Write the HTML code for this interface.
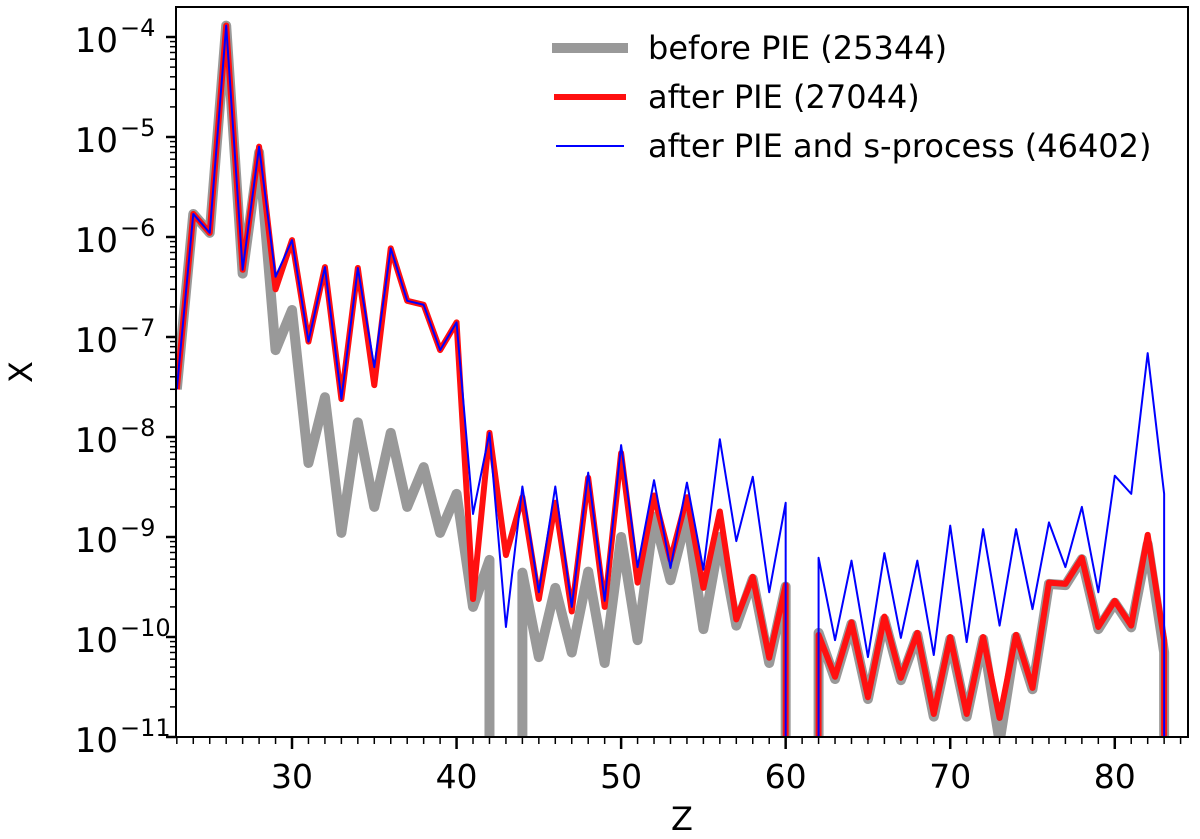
<!DOCTYPE html>
<html><head><meta charset="utf-8"><style>
html,body{margin:0;padding:0;background:#fff;overflow:hidden;width:1200px;height:839px;}
svg{display:block;}
svg text{font-family:"DejaVu Sans","Liberation Sans",sans-serif;fill:#000;}
</style></head><body>
<svg id="chart" width="1200" height="839" xmlns="http://www.w3.org/2000/svg">
<defs><clipPath id="clip"><rect x="176" y="7" width="1012" height="730"/></clipPath></defs>
<g id="series" clip-path="url(#clip)"></g>
<rect x="176" y="7" width="1012" height="730" fill="none" stroke="#000" stroke-width="2"/>
<g id="axes"></g>
<text x="682" y="830" font-size="32" text-anchor="middle">Z</text>
<text x="32" y="372" font-size="32" text-anchor="middle" transform="rotate(-90 32 372)">X</text>
<g>
<line x1="552" y1="48" x2="628" y2="48" stroke="#999" stroke-width="10"/>
<text x="648" y="59" font-size="32">before PIE (25344)</text>
<line x1="554" y1="97" x2="626" y2="97" stroke="#ff1010" stroke-width="6"/>
<text x="648" y="108" font-size="32">after PIE (27044)</text>
<line x1="556" y1="146" x2="624" y2="146" stroke="#0000ff" stroke-width="2"/>
<text x="648" y="157" font-size="32">after PIE and s-process (46402)</text>
</g>
</svg>
<script>
const zValues = [23,24,25,26,27,28,29,30,31,32,33,34,35,36,37,38,39,40,41,42,43,44,45,46,47,48,49,50,51,52,53,54,55,56,57,58,59,60,61,62,63,64,65,66,67,68,69,70,71,72,73,74,75,76,77,78,79,80,81,82,83,84];
const beforePIE = [3e-8,1.7e-6,1.1e-6,1.3e-4,4.3e-7,7e-6,7.4e-8,1.86e-7,5.5e-9,2.5e-8,1.1e-9,1.4e-8,2e-9,1.1e-8,2e-9,5e-9,1.1e-9,2.7e-9,2e-10,5.9e-10,0,4.4e-10,6.3e-11,3.1e-10,7e-11,4.5e-10,5.5e-11,1e-9,9.3e-11,1.6e-9,3.7e-10,1.6e-9,1.2e-10,1e-9,1.3e-10,3.8e-10,5.5e-11,3.2e-10,0,1.1e-10,3.8e-11,1.35e-10,2.4e-11,1.5e-10,3.7e-11,1.05e-10,1.6e-11,9.5e-11,1.6e-11,9.5e-11,9e-12,1e-10,3e-11,3.4e-10,3.3e-10,6e-10,1.2e-10,2.2e-10,1.25e-10,8.5e-10,7e-11,0];
const afterPIE = [3e-8,1.7e-6,1.1e-6,1.3e-4,4.7e-7,8e-6,3e-7,9.3e-7,9e-8,5e-7,2.4e-8,4.9e-7,3.3e-8,7.7e-7,2.3e-7,2.1e-7,7.4e-8,1.4e-7,2.4e-10,1.1e-8,6.6e-10,2.5e-9,2.4e-10,2.2e-9,1.8e-10,3.9e-9,2e-10,6.9e-9,3.5e-10,2.6e-9,5.9e-10,2.5e-9,3.1e-10,1.8e-9,1.5e-10,4e-10,6.2e-11,3.3e-10,0,1.05e-10,4e-11,1.4e-10,2.5e-11,1.6e-10,3.9e-11,1.1e-10,1.7e-11,1e-10,1.7e-11,1e-10,1.55e-11,1.05e-10,3.1e-11,3.5e-10,3.4e-10,6.2e-10,1.26e-10,2.3e-10,1.3e-10,1.05e-9,9.3e-11,0];
const afterSProcess = [3e-8,1.7e-6,1.1e-6,1.3e-4,4.7e-7,8e-6,4e-7,9.3e-7,9e-8,5e-7,2.4e-8,4.9e-7,5e-8,7.7e-7,2.3e-7,2.1e-7,7.4e-8,1.4e-7,1.7e-9,1.1e-8,1.26e-10,3.2e-9,2.8e-10,3.2e-9,2e-10,4.4e-9,2.3e-10,8.3e-9,5e-10,3.7e-9,4.9e-10,3.5e-9,4.7e-10,9.5e-9,9.1e-10,4e-9,2.8e-10,2.2e-9,0,6.2e-10,9.3e-11,5.8e-10,6.3e-11,6.9e-10,9.8e-11,5.8e-10,6.6e-11,1.3e-9,8.9e-11,1.2e-9,1.3e-10,1.2e-9,1.9e-10,1.4e-9,5e-10,2e-9,2.8e-10,4.1e-9,2.7e-9,6.9e-8,2.7e-9,0];
const xTicks = [30,40,50,60,70,80];
const yTickExps = [-4,-5,-6,-7,-8,-9,-10,-11];

const NS = "http://www.w3.org/2000/svg";
const X0 = 176, X1 = 1188, Z0 = 22.95, Z1 = 84.45;
const Y_TOP = 7, Y_BOT = 737, L_BOT = -11, DEC = 100;
const BELOW = Y_BOT + 15;
function xs(z){ return X0 + (z - Z0) / (Z1 - Z0) * (X1 - X0); }
function ys(v){ return Y_BOT - (Math.log10(v) - L_BOT) * DEC; }
function mk(tag, attrs, parent){ const e = document.createElementNS(NS, tag); for (const k in attrs) e.setAttribute(k, attrs[k]); parent.appendChild(e); return e; }

const sg = document.getElementById('series');
function drawSeries(vals, color, w, name){
  let d = '';
  let pen = false;
  for (let i = 0; i < vals.length; i++) {
    const v = vals[i];
    if (v > 0) {
      const y = Math.min(BELOW, ys(v));
      d += (pen ? 'L' : 'M') + xs(zValues[i]).toFixed(2) + ' ' + y.toFixed(2) + ' ';
      pen = true;
    } else {
      if (pen && i > 0) d += 'L' + xs(zValues[i-1]).toFixed(2) + ' ' + BELOW + ' ';
      if (i + 1 < vals.length) { d += 'M' + xs(zValues[i+1]).toFixed(2) + ' ' + BELOW + ' '; pen = true; }
      else pen = false;
    }
  }
  const p = mk('path', {d: d, fill: 'none', stroke: color, 'stroke-width': w, 'stroke-linejoin': 'round'}, sg);
  
  
}
drawSeries(beforePIE, '#999999', 10, 'line-before-pie');
drawSeries(afterPIE, '#ff1010', 6, 'line-after-pie');
drawSeries(afterSProcess, '#0000ff', 2, 'line-after-s-process');

const ax = document.getElementById('axes');
for (let z = 23; z <= 84; z++) {
  const major = xTicks.includes(z);
  const t = mk('line', {x1: xs(z), x2: xs(z), y1: Y_BOT, y2: Y_BOT + (major ? 12 : 7), stroke: '#000', 'stroke-width': major ? 2.5 : 1.5}, ax);
  
  
}
xTicks.forEach(z => {
  const t = mk('text', {x: xs(z), y: 788, 'font-size': 33, 'text-anchor': 'middle'}, ax);
  t.textContent = String(z);
  
  
});
yTickExps.forEach(e => {
  const y = ys(Math.pow(10, e));
  const t = mk('line', {x1: X0 - 10, x2: X0, y1: y, y2: y, stroke: '#000', 'stroke-width': 2.5}, ax);
  
  
  for (let m = 2; m <= 9; m++) {
    const ym = ys(m * Math.pow(10, e));
    if (ym < Y_TOP) continue;
    const mt = mk('line', {x1: X0 - 6, x2: X0, y1: ym, y2: ym, stroke: '#000', 'stroke-width': 1.5}, ax);
    
    
  }
  const lb = mk('text', {x: 118, y: y + 15, 'font-size': 34, 'text-anchor': 'end'}, ax);
  lb.textContent = '10';
  
  
  const sup = mk('text', {x: 120, y: y - 1, 'font-size': 24, 'text-anchor': 'start'}, ax);
  sup.textContent = '\u2212' + Math.abs(e);
  
  
});
</script>
</body></html>
